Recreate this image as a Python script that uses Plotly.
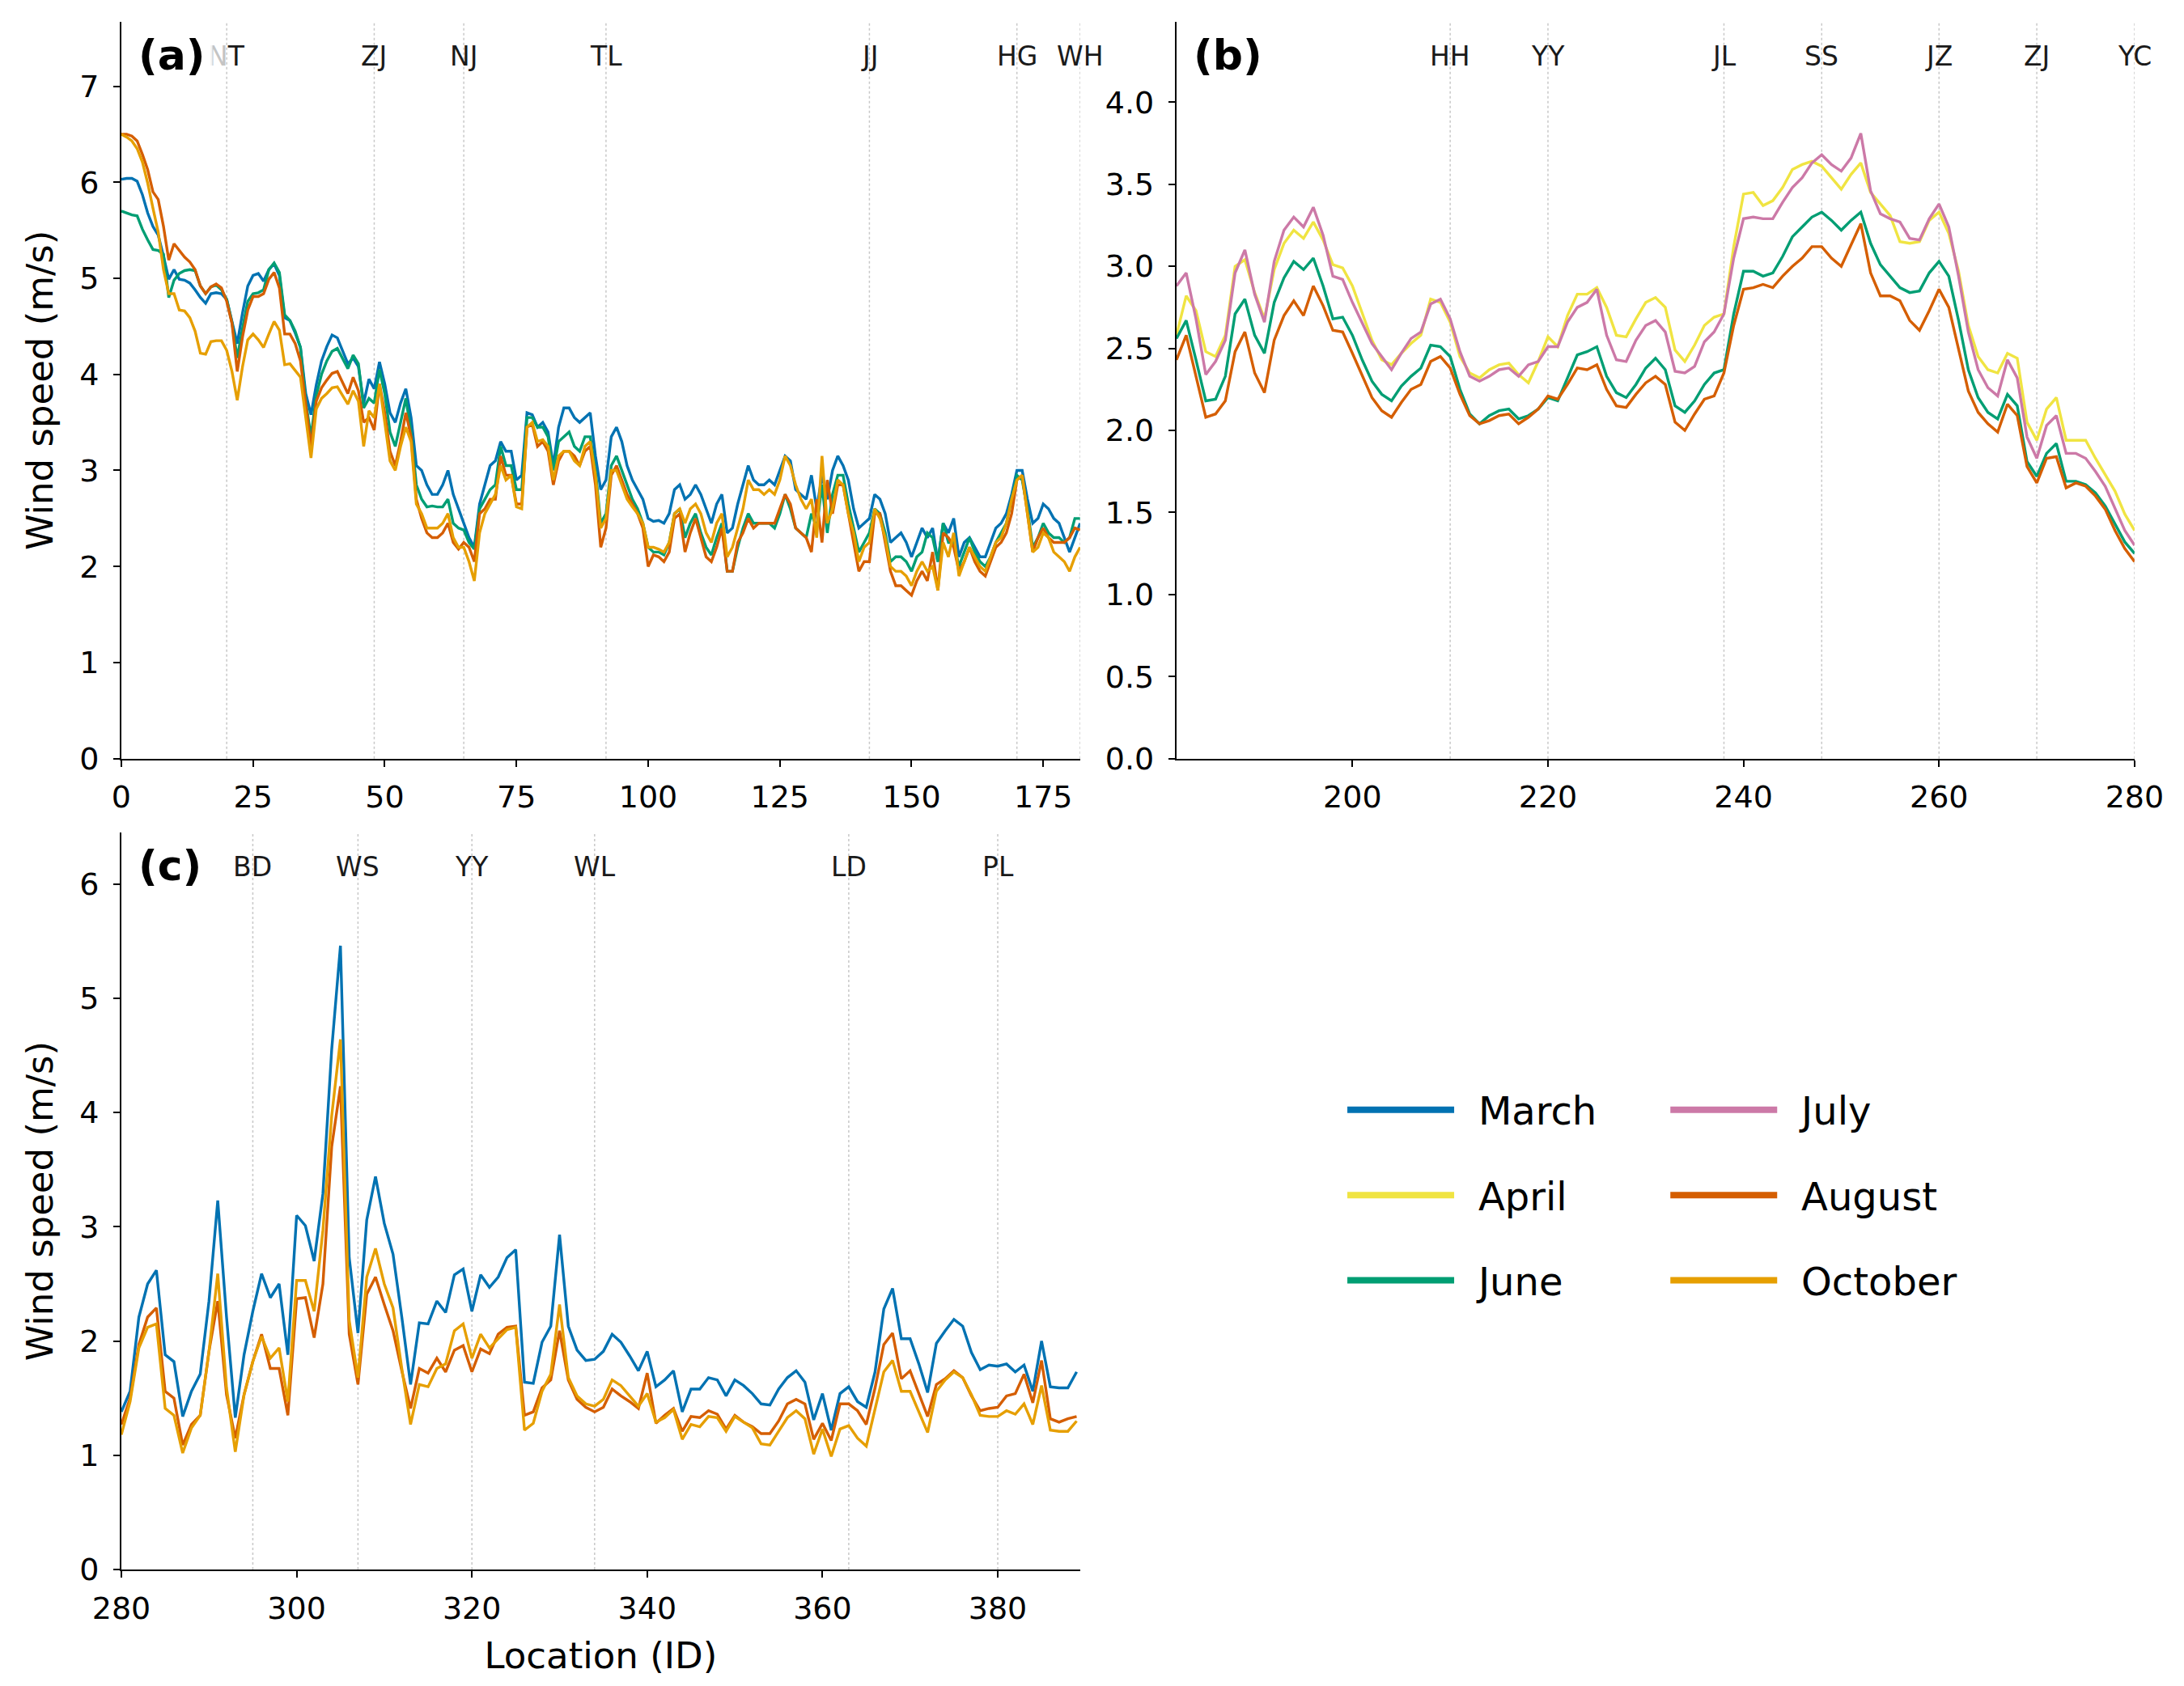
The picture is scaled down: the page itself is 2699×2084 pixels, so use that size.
import plotly.graph_objects as go

# ---- data ----
# panel (a): locations 0..182
loc_a = list(range(0, 183))
march_a = [6.03, 6.04, 6.04, 6.01, 5.87, 5.68, 5.54, 5.45, 5.23, 4.99,
           5.09, 4.99, 4.98, 4.95, 4.88, 4.80, 4.74, 4.84, 4.85, 4.84,
           4.78, 4.56, 4.32, 4.64, 4.92, 5.03, 5.05, 4.97, 5.09, 5.15,
           5.03, 4.59, 4.56, 4.43, 4.28, 3.80, 3.58, 3.89, 4.14, 4.29,
           4.41, 4.38, 4.25, 4.11, 4.17, 4.08, 3.70, 3.95, 3.85, 4.13,
           3.90, 3.60, 3.50, 3.70, 3.85, 3.55, 3.05, 3.00, 2.85, 2.75,
           2.75, 2.85, 3.00, 2.75, 2.60, 2.45, 2.30, 2.20, 2.65, 2.85,
           3.05, 3.10, 3.30, 3.20, 3.20, 2.90, 2.95, 3.60, 3.58, 3.45,
           3.50, 3.40, 3.05, 3.45, 3.65, 3.65, 3.55, 3.50, 3.55, 3.60,
           3.15, 2.80, 2.90, 3.35, 3.45, 3.30, 3.05, 2.90, 2.80, 2.70,
           2.50, 2.47, 2.48, 2.45, 2.55, 2.80, 2.85, 2.70, 2.75, 2.85,
           2.75, 2.60, 2.45, 2.65, 2.75, 2.35, 2.40, 2.65, 2.85, 3.05,
           2.90, 2.85, 2.85, 2.90, 2.85, 3.00, 3.15, 3.10, 2.80, 2.75,
           2.70, 2.95, 2.60, 2.95, 2.70, 3.00, 3.15, 3.05, 2.90, 2.60,
           2.40, 2.45, 2.50, 2.75, 2.70, 2.55, 2.25, 2.30, 2.35, 2.25,
           2.10, 2.25, 2.40, 2.30, 2.40, 2.05, 2.45, 2.35, 2.50, 2.10,
           2.25, 2.30, 2.20, 2.10, 2.10, 2.25, 2.40, 2.45, 2.55, 2.75,
           3.00, 3.00, 2.70, 2.45, 2.50, 2.65, 2.60, 2.50, 2.45, 2.30,
           2.15, 2.30, 2.45]
june_a = [5.70, 5.68, 5.66, 5.65, 5.51, 5.40, 5.30, 5.29, 5.25, 4.80,
          4.98, 5.05, 5.08, 5.09, 5.08, 4.92, 4.84, 4.91, 4.93, 4.88,
          4.78, 4.54, 4.17, 4.48, 4.76, 4.84, 4.85, 4.88, 5.09, 5.16,
          5.06, 4.62, 4.56, 4.45, 4.28, 3.72, 3.35, 3.78, 4.00, 4.14,
          4.24, 4.27, 4.17, 4.06, 4.20, 4.11, 3.65, 3.75, 3.70, 4.05,
          3.80, 3.40, 3.25, 3.50, 3.75, 3.40, 2.85, 2.70, 2.62, 2.63,
          2.62, 2.62, 2.70, 2.45, 2.40, 2.38, 2.25, 2.18, 2.60, 2.70,
          2.80, 2.85, 3.25, 3.05, 3.05, 2.80, 2.80, 3.55, 3.55, 3.45,
          3.45, 3.35, 3.00, 3.30, 3.35, 3.40, 3.25, 3.20, 3.35, 3.35,
          3.00, 2.45, 2.55, 3.05, 3.15, 3.00, 2.85, 2.70, 2.60, 2.45,
          2.20, 2.15, 2.15, 2.12, 2.25, 2.55, 2.60, 2.30, 2.45, 2.55,
          2.35, 2.20, 2.12, 2.30, 2.45, 1.95, 1.95, 2.20, 2.40, 2.55,
          2.45, 2.45, 2.45, 2.45, 2.40, 2.55, 2.75, 2.60, 2.40, 2.35,
          2.30, 2.55, 2.40, 2.85, 2.35, 2.75, 2.95, 2.95, 2.65, 2.40,
          2.15, 2.25, 2.35, 2.60, 2.55, 2.35, 2.05, 2.10, 2.10, 2.05,
          1.95, 2.10, 2.15, 2.35, 2.30, 2.05, 2.45, 2.25, 2.25, 2.00,
          2.15, 2.30, 2.15, 2.05, 2.00, 2.10, 2.25, 2.35, 2.45, 2.70,
          2.95, 2.90, 2.60, 2.20, 2.30, 2.45, 2.35, 2.30, 2.30, 2.25,
          2.30, 2.50, 2.50]
august_a = [6.50, 6.50, 6.48, 6.43, 6.29, 6.13, 5.90, 5.82, 5.54, 5.19,
            5.36, 5.29, 5.22, 5.17, 5.09, 4.92, 4.84, 4.91, 4.94, 4.90,
            4.76, 4.53, 4.03, 4.39, 4.67, 4.81, 4.81, 4.84, 4.99, 5.06,
            4.90, 4.42, 4.42, 4.32, 4.14, 3.69, 3.25, 3.72, 3.86, 3.94,
            4.01, 4.03, 3.92, 3.80, 3.97, 3.83, 3.50, 3.55, 3.42, 3.90,
            3.60, 3.20, 3.05, 3.30, 3.60, 3.35, 2.70, 2.50, 2.35, 2.30,
            2.30, 2.35, 2.45, 2.25, 2.18, 2.25, 2.20, 2.05, 2.55, 2.60,
            2.70, 2.70, 3.15, 2.95, 2.95, 2.65, 2.65, 3.45, 3.48, 3.25,
            3.30, 3.20, 2.85, 3.10, 3.20, 3.20, 3.15, 3.05, 3.20, 3.25,
            2.85, 2.20, 2.40, 2.95, 3.05, 2.90, 2.75, 2.65, 2.55, 2.40,
            2.00, 2.12, 2.10, 2.05, 2.15, 2.50, 2.55, 2.15, 2.35, 2.50,
            2.30, 2.10, 2.05, 2.20, 2.40, 1.95, 1.95, 2.25, 2.35, 2.50,
            2.40, 2.45, 2.45, 2.45, 2.45, 2.60, 2.75, 2.65, 2.40, 2.35,
            2.30, 2.15, 2.70, 2.25, 2.90, 2.55, 2.85, 2.85, 2.55, 2.25,
            1.95, 2.05, 2.05, 2.55, 2.55, 2.25, 1.95, 1.80, 1.80, 1.75,
            1.70, 1.85, 1.95, 1.85, 2.15, 1.75, 2.35, 2.30, 2.20, 1.95,
            2.05, 2.20, 2.05, 1.95, 1.90, 2.05, 2.20, 2.25, 2.35, 2.55,
            2.90, 2.95, 2.55, 2.15, 2.30, 2.40, 2.30, 2.25, 2.25, 2.25,
            2.30, 2.40, 2.38]
october_a = [6.50, 6.47, 6.43, 6.35, 6.21, 5.99, 5.73, 5.48, 5.09, 4.84,
             4.84, 4.67, 4.66, 4.59, 4.45, 4.22, 4.21, 4.34, 4.35, 4.35,
             4.25, 4.03, 3.73, 4.08, 4.36, 4.42, 4.36, 4.28, 4.42, 4.55,
             4.46, 4.10, 4.11, 4.04, 3.97, 3.55, 3.13, 3.64, 3.75, 3.80,
             3.86, 3.87, 3.78, 3.69, 3.83, 3.72, 3.25, 3.62, 3.55, 3.90,
             3.50, 3.10, 3.00, 3.25, 3.45, 3.30, 2.65, 2.55, 2.40, 2.40,
             2.40, 2.45, 2.55, 2.30, 2.20, 2.20, 2.05, 1.85, 2.35, 2.55,
             2.65, 2.75, 3.05, 2.90, 2.95, 2.62, 2.60, 3.45, 3.50, 3.30,
             3.32, 3.25, 2.90, 3.15, 3.20, 3.20, 3.10, 3.05, 3.25, 3.30,
             2.95, 2.40, 2.50, 3.00, 3.00, 2.85, 2.70, 2.62, 2.55, 2.45,
             2.20, 2.20, 2.18, 2.15, 2.25, 2.55, 2.60, 2.45, 2.60, 2.65,
             2.55, 2.35, 2.25, 2.45, 2.55, 2.10, 2.20, 2.40, 2.60, 2.90,
             2.80, 2.80, 2.75, 2.80, 2.75, 2.90, 3.15, 3.05, 2.85, 2.70,
             2.60, 2.70, 2.30, 3.15, 2.45, 2.60, 2.90, 2.85, 2.55, 2.35,
             2.05, 2.20, 2.25, 2.60, 2.50, 2.30, 2.00, 1.95, 1.95, 1.90,
             1.80, 1.95, 2.05, 1.95, 2.00, 1.75, 2.25, 2.10, 2.35, 1.90,
             2.05, 2.20, 2.10, 2.00, 1.95, 2.10, 2.25, 2.30, 2.45, 2.70,
             2.90, 2.95, 2.55, 2.15, 2.20, 2.35, 2.30, 2.15, 2.10, 2.05,
             1.95, 2.10, 2.20]

# panel (b): locations 182..280
loc_b = list(range(182, 281))
april_b = [2.58, 2.82, 2.73, 2.48, 2.45, 2.58, 3.00, 3.04, 2.84, 2.68,
           2.98, 3.14, 3.22, 3.17, 3.27, 3.16, 3.01, 2.99, 2.88, 2.71,
           2.55, 2.43, 2.40, 2.47, 2.53, 2.58, 2.80, 2.78, 2.66, 2.45,
           2.35, 2.32, 2.37, 2.40, 2.41, 2.34, 2.29, 2.42, 2.57, 2.51,
           2.70, 2.83, 2.83, 2.87, 2.75, 2.58, 2.57, 2.68, 2.78, 2.81,
           2.75, 2.49, 2.42, 2.52, 2.64, 2.69, 2.71, 3.12, 3.44, 3.45,
           3.37, 3.40, 3.48, 3.59, 3.62, 3.64, 3.61, 3.54, 3.47, 3.56,
           3.63, 3.45, 3.38, 3.31, 3.15, 3.14, 3.15, 3.28, 3.33, 3.20,
           2.97, 2.64, 2.45, 2.37, 2.35, 2.47, 2.44, 2.05, 1.94, 2.13,
           2.20, 1.94, 1.94, 1.94, 1.83, 1.73, 1.63, 1.49, 1.39]
june_b = [2.56, 2.67, 2.43, 2.18, 2.19, 2.33, 2.71, 2.80, 2.58, 2.47,
          2.78, 2.93, 3.03, 2.98, 3.05, 2.88, 2.68, 2.69, 2.58, 2.43,
          2.30, 2.22, 2.18, 2.27, 2.33, 2.38, 2.52, 2.51, 2.45, 2.25,
          2.10, 2.04, 2.09, 2.12, 2.13, 2.07, 2.09, 2.13, 2.20, 2.18,
          2.32, 2.46, 2.48, 2.51, 2.33, 2.23, 2.20, 2.28, 2.38, 2.44,
          2.37, 2.15, 2.11, 2.18, 2.28, 2.35, 2.37, 2.71, 2.97, 2.97,
          2.94, 2.96, 3.06, 3.18, 3.24, 3.30, 3.33, 3.28, 3.22, 3.28,
          3.33, 3.14, 3.01, 2.94, 2.87, 2.84, 2.85, 2.96, 3.03, 2.94,
          2.67, 2.37, 2.20, 2.11, 2.07, 2.22, 2.15, 1.81, 1.72, 1.86,
          1.92, 1.69, 1.69, 1.67, 1.62, 1.54, 1.43, 1.32, 1.25]
july_b = [2.88, 2.96, 2.68, 2.34, 2.42, 2.55, 2.96, 3.10, 2.83, 2.66,
          3.03, 3.22, 3.30, 3.24, 3.36, 3.19, 2.94, 2.92, 2.78, 2.65,
          2.53, 2.45, 2.37, 2.47, 2.56, 2.60, 2.77, 2.80, 2.68, 2.48,
          2.33, 2.30, 2.33, 2.37, 2.38, 2.33, 2.40, 2.42, 2.51, 2.51,
          2.66, 2.75, 2.78, 2.86, 2.58, 2.43, 2.42, 2.55, 2.64, 2.67,
          2.60, 2.36, 2.35, 2.39, 2.54, 2.60, 2.71, 3.05, 3.29, 3.30,
          3.29, 3.29, 3.39, 3.48, 3.54, 3.63, 3.68, 3.62, 3.58, 3.66,
          3.81, 3.46, 3.32, 3.29, 3.27, 3.17, 3.16, 3.29, 3.38, 3.24,
          2.94, 2.60, 2.37, 2.26, 2.21, 2.43, 2.32, 1.96, 1.83, 2.03,
          2.09, 1.86, 1.86, 1.83, 1.75, 1.66, 1.52, 1.39, 1.30]
august_b = [2.43, 2.58, 2.33, 2.08, 2.10, 2.18, 2.48, 2.60, 2.35, 2.23,
            2.55, 2.70, 2.79, 2.70, 2.88, 2.76, 2.61, 2.60, 2.47, 2.33,
            2.20, 2.12, 2.08, 2.17, 2.25, 2.28, 2.42, 2.45, 2.38, 2.22,
            2.09, 2.04, 2.06, 2.09, 2.10, 2.04, 2.08, 2.13, 2.21, 2.19,
            2.28, 2.38, 2.37, 2.40, 2.25, 2.15, 2.14, 2.22, 2.29, 2.33,
            2.28, 2.05, 2.00, 2.10, 2.19, 2.21, 2.35, 2.64, 2.86, 2.87,
            2.89, 2.87, 2.94, 3.00, 3.05, 3.12, 3.12, 3.05, 3.00, 3.13,
            3.26, 2.96, 2.82, 2.82, 2.79, 2.67, 2.61, 2.73, 2.86, 2.75,
            2.49, 2.24, 2.11, 2.04, 1.99, 2.16, 2.09, 1.78, 1.68, 1.83,
            1.84, 1.65, 1.68, 1.66, 1.60, 1.52, 1.39, 1.28, 1.20]

# panel (c): locations 280..389
loc_c = list(range(280, 390))
march_c = [1.38, 1.56, 2.21, 2.50, 2.62, 1.88, 1.82, 1.34, 1.56, 1.71,
           2.35, 3.23, 2.21, 1.33, 1.88, 2.26, 2.59, 2.38, 2.50, 1.88,
           3.10, 3.01, 2.70, 3.29, 4.55, 5.46, 2.73, 2.07, 3.06, 3.44,
           3.03, 2.76, 2.21, 1.62, 2.16, 2.15, 2.35, 2.25, 2.58, 2.63,
           2.26, 2.58, 2.47, 2.56, 2.73, 2.80, 1.64, 1.63, 1.99, 2.13,
           2.93, 2.13, 1.92, 1.83, 1.84, 1.91, 2.06, 1.99, 1.87, 1.74,
           1.91, 1.60, 1.66, 1.74, 1.38, 1.58, 1.58, 1.68, 1.66,
           1.52, 1.66, 1.61, 1.54, 1.45, 1.44, 1.58, 1.68, 1.74, 1.64,
           1.31, 1.54, 1.22, 1.54, 1.60, 1.47, 1.42, 1.73, 2.28, 2.46,
           2.02, 2.02, 1.80, 1.55, 1.98, 2.09, 2.19, 2.13, 1.90, 1.75,
           1.79, 1.78, 1.80, 1.73, 1.79, 1.56, 2.00, 1.60, 1.59, 1.59, 1.73]
august_c = [1.27, 1.50, 1.97, 2.21, 2.29, 1.56, 1.50, 1.09, 1.27, 1.35,
            1.91, 2.35, 1.53, 1.15, 1.53, 1.82, 2.06, 1.76, 1.76, 1.35,
            2.37, 2.38, 2.03, 2.50, 3.70, 4.23, 2.06, 1.62, 2.41, 2.56,
            2.32, 2.09, 1.74, 1.41, 1.76, 1.72, 1.85, 1.73, 1.92, 1.96,
            1.73, 1.93, 1.89, 2.06, 2.12, 2.13, 1.35, 1.38, 1.59, 1.66,
            2.09, 1.66, 1.49, 1.42, 1.38, 1.42, 1.58, 1.52, 1.47, 1.41,
            1.72, 1.28, 1.35, 1.41, 1.21, 1.34, 1.33, 1.39, 1.36,
            1.23, 1.35, 1.29, 1.25, 1.19, 1.19, 1.30, 1.45, 1.49, 1.45,
            1.14, 1.28, 1.13, 1.45, 1.45, 1.39, 1.27, 1.59, 1.97, 2.07,
            1.67, 1.74, 1.54, 1.34, 1.62, 1.67, 1.74, 1.68, 1.52, 1.39,
            1.41, 1.42, 1.52, 1.54, 1.71, 1.46, 1.83, 1.32, 1.29, 1.32, 1.34]
october_c = [1.18, 1.47, 1.94, 2.12, 2.15, 1.41, 1.35, 1.02, 1.24, 1.35,
             1.91, 2.59, 1.59, 1.03, 1.53, 1.82, 2.04, 1.85, 1.94, 1.47,
             2.53, 2.53, 2.26, 2.97, 3.97, 4.64, 2.18, 1.68, 2.56, 2.81,
             2.50, 2.29, 1.76, 1.27, 1.62, 1.60, 1.76, 1.80, 2.09, 2.15,
             1.85, 2.06, 1.94, 2.02, 2.10, 2.12, 1.22, 1.28, 1.56, 1.71,
             2.32, 1.68, 1.52, 1.45, 1.43, 1.49, 1.66, 1.61, 1.52, 1.43,
             1.54, 1.29, 1.33, 1.40, 1.14, 1.27, 1.25, 1.34, 1.33,
             1.21, 1.34, 1.29, 1.24, 1.10, 1.09, 1.21, 1.33, 1.39, 1.32,
             1.01, 1.23, 0.99, 1.23, 1.26, 1.15, 1.08, 1.40, 1.73, 1.83,
             1.56, 1.56, 1.38, 1.20, 1.56, 1.66, 1.73, 1.68, 1.53, 1.35,
             1.34, 1.34, 1.39, 1.36, 1.45, 1.27, 1.61, 1.22, 1.21, 1.21, 1.30]

# reference stations marked along the route
# (the "N" of NT sits under the faded box of the panel tag in the original)
stations_a = [(20, "<span style='color:#c4c4c4'>N</span>T"), (48, "ZJ"), (65, "NJ"), (92, "TL"),
              (142, "JJ"), (170, "HG"), (182, "WH")]
stations_b = [(210, "HH"), (220, "YY"), (238, "JL"), (248, "SS"), (260, "JZ"), (270, "ZJ"), (280, "YC")]
stations_c = [(295, "BD"), (307, "WS"), (320, "YY"), (334, "WL"), (363, "LD"), (380, "PL")]

colors = {"March": "#0072B2", "April": "#F0E442", "June": "#009E73",
          "July": "#CC79A7", "August": "#D55E00", "October": "#E69F00"}

FONT = "DejaVu Sans"

fig = go.Figure()


def add_line(x, y, month, xa, ya):
    fig.add_trace(go.Scatter(x=x, y=y, mode="lines", name=month, showlegend=False,
                             line=dict(color=colors[month], width=3.4),
                             xaxis=xa, yaxis=ya))


add_line(loc_a, march_a, "March", "x", "y")
add_line(loc_a, june_a, "June", "x", "y")
add_line(loc_a, august_a, "August", "x", "y")
add_line(loc_a, october_a, "October", "x", "y")

add_line(loc_b, april_b, "April", "x2", "y2")
add_line(loc_b, june_b, "June", "x2", "y2")
add_line(loc_b, july_b, "July", "x2", "y2")
add_line(loc_b, august_b, "August", "x2", "y2")

add_line(loc_c, march_c, "March", "x3", "y3")
add_line(loc_c, august_c, "August", "x3", "y3")
add_line(loc_c, october_c, "October", "x3", "y3")

# legend-only entries, two columns (spaces keep a gap between line and label)
for i, month in enumerate(["March", "April", "June", "July", "August", "October"]):
    fig.add_trace(go.Scatter(x=[None], y=[None], mode="lines", name="\u00a0\u2009" + month,
                             line=dict(color=colors[month], width=8),
                             legend="legend" if i < 3 else "legend2",
                             legendgroup=month, xaxis="x3", yaxis="y3"))

shapes = []
annotations = []
for stations, xr, yr in [(stations_a, "x", "y"), (stations_b, "x2", "y2"), (stations_c, "x3", "y3")]:
    for loc, name in stations:
        shapes.append(dict(type="line", xref=xr, yref=yr + " domain", x0=loc, x1=loc, y0=0, y1=1,
                           layer="below", line=dict(color="#c8c8c8", width=1.5, dash="dot")))
        annotations.append(dict(x=loc, y=0.953, xref=xr, yref=yr + " domain", text=name,
                                showarrow=False, yanchor="middle",
                                font=dict(size=33, color="#1a1a1a", family=FONT)))

for tag, xr, yr in [("(a)", "x", "y"), ("(b)", "x2", "y2"), ("(c)", "x3", "y3")]:
    annotations.append(dict(x=0.01, y=0.955, xref=xr + " domain", yref=yr + " domain",
                            text="<b>%s</b>" % tag, showarrow=False, xanchor="left", yanchor="middle",
                            bgcolor="rgba(255,255,255,0.8)", borderpad=8,
                            font=dict(size=52, color="black", family=FONT)))

axis_style = dict(showline=True, linecolor="black", linewidth=2, ticks="outside", ticklen=8,
                  tickwidth=2, tickcolor="black", showgrid=False, zeroline=False, automargin=False,
                  tickfont=dict(size=38, color="black", family=FONT))
x_style = dict(ticklabelstandoff=5, **axis_style)
y_style = dict(ticklabelstandoff=10, **axis_style)
title_font = dict(size=45, color="black", family=FONT)

legend_style = dict(xanchor="left", yanchor="top", itemwidth=132, tracegroupgap=40,
                    font=dict(size=48, color="black", family=FONT), bgcolor="rgba(0,0,0,0)")

# domains are shifted by the 8px body margin of the html page
fig.update_layout(
    width=2699, height=2084,
    margin=dict(l=0, r=0, t=0, b=0),
    paper_bgcolor="white", plot_bgcolor="white",
    font=dict(family=FONT, color="black"),
    xaxis=dict(domain=[0.0526, 0.4916], anchor="y", range=[0, 182], tick0=0, dtick=25, **x_style),
    yaxis=dict(domain=[0.5539, 0.9909], anchor="x", range=[0, 7.67], dtick=1,
               title=dict(text="Wind speed (m/s)", font=title_font, standoff=18), **y_style),
    xaxis2=dict(domain=[0.5357, 0.9744], anchor="y2", range=[182, 280], tick0=200, dtick=20, **x_style),
    yaxis2=dict(domain=[0.5539, 0.9909], anchor="x2", range=[0, 4.49], dtick=0.5, tickformat=".1f",
                **y_style),
    xaxis3=dict(domain=[0.0526, 0.4916], anchor="y3", range=[280, 389.4], tick0=280, dtick=20,
                title=dict(text="Location (ID)", font=title_font, standoff=22), **x_style),
    yaxis3=dict(domain=[0.0729, 0.5100], anchor="x3", range=[0, 6.45], dtick=1,
                title=dict(text="Wind speed (m/s)", font=title_font, standoff=18), **y_style),
    legend=dict(x=0.6121, y=0.3637, **legend_style),
    legend2=dict(x=0.7600, y=0.3637, **legend_style),
    shapes=shapes,
    annotations=annotations,
)

fig.write_html("out.html")
